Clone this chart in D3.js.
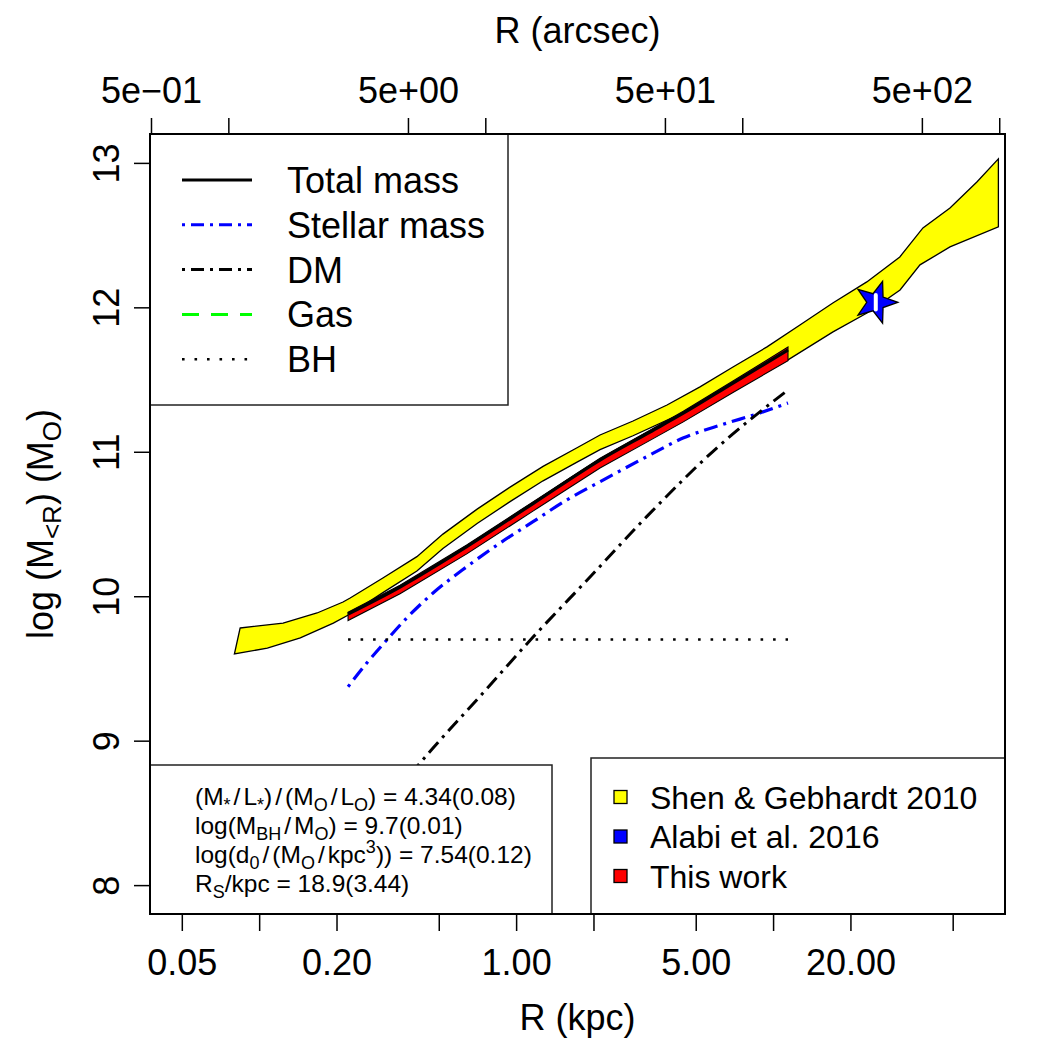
<!DOCTYPE html>
<html>
<head>
<meta charset="utf-8">
<script src="https://cdn.jsdelivr.net/npm/d3@7"></script>
<style>
body { margin: 0; background: #fff; }
text { font-family: "Liberation Sans", Arial, sans-serif; fill: #000; }
</style>
</head>
<body>
<svg id="chart" width="1050" height="1050"></svg>
<script>
// ---- data (R in kpc, log10 of enclosed mass) ----
// Shen & Gebhardt 2010 band, upper and lower edges
var sgUpR = [0.0843, 0.1239, 0.168, 0.212, 0.226, 0.303, 0.411, 0.519, 0.705, 0.947, 1.273, 1.726, 2.121, 2.850, 3.866, 5.195, 6.982, 9.47, 12.72, 17.08, 23.16, 31.13, 38.3, 48.8, 62.1, 75.3];
var sgUp  = [9.780, 9.814, 9.884, 9.960, 9.988, 10.126, 10.274, 10.430, 10.603, 10.755, 10.899, 11.028, 11.116, 11.213, 11.324, 11.449, 11.587, 11.726, 11.878, 12.030, 12.176, 12.349, 12.550, 12.688, 12.868, 13.028];
var sgLoR = [0.0801, 0.1076, 0.1446, 0.1944, 0.226, 0.303, 0.411, 0.519, 0.705, 0.947, 1.273, 1.726, 2.121, 2.850, 4.461, 6.982, 11.43, 17.11, 23.2, 31.2, 37.3, 48.8, 75.3];
var sgLo  = [9.600, 9.641, 9.711, 9.814, 9.877, 10.025, 10.174, 10.330, 10.503, 10.655, 10.799, 10.928, 11.015, 11.111, 11.269, 11.442, 11.636, 11.830, 11.961, 12.120, 12.294, 12.418, 12.557];

// This work: total mass and its band
var modelR    = [0.2218, 0.3534, 0.6424, 1.167, 2.121, 3.319, 4.473, 6.982, 11.43];
var totalMass = [9.877, 10.064, 10.343, 10.643, 10.943, 11.137, 11.267, 11.476, 11.705];
var totalHi   = [9.889, 10.076, 10.355, 10.655, 10.955, 11.150, 11.280, 11.490, 11.725];
var totalLo   = [9.832, 10.017, 10.293, 10.591, 10.888, 11.079, 11.207, 11.411, 11.630];

// stellar mass
var starR    = [0.2218, 0.2622, 0.3137, 0.3752, 0.475, 0.6424, 0.8657, 1.164, 1.573, 2.121, 3.222, 4.461, 6.385, 8.892, 11.43];
var starMass = [9.373, 9.537, 9.697, 9.849, 10.022, 10.204, 10.368, 10.516, 10.666, 10.793, 10.966, 11.095, 11.190, 11.269, 11.338];

// dark matter
var dmR    = [0.2218, 0.323, 0.475, 0.743, 1.164, 1.939, 3.222, 6.033, 11.43];
var dmMass = [8.256, 8.602, 8.949, 9.330, 9.717, 10.133, 10.551, 11.026, 11.428];

// black hole (constant)
var bhR = [0.2218, 11.43];
var bhMass = 9.7;

// Alabi et al. 2016 point
var alabiR = [25.1];
var alabiMass = [12.035];
var alabiErr = [0.05];

// axes
var kpcTicks  = [0.05, 0.1, 0.2, 0.5, 1, 2, 5, 10, 20, 50];
var kpcLabels = ["0.05", "", "0.20", "", "1.00", "", "5.00", "", "20.00", ""];
var arcTicks  = [0.5, 1, 5, 10, 50, 100, 500, 1000];
var arcLabels = ["5e\u221201", "", "5e+00", "", "5e+01", "", "5e+02", ""];
var yTicks = [8, 9, 10, 11, 12, 13];
var arcPerKpc = 13.18;

var legendLines = ["Total mass", "Stellar mass", "DM", "Gas", "BH"];
var legendBoxes = ["Shen & Gebhardt 2010", "Alabi et al. 2016", "This work"];

// ---- layout ----  (don't call it "top": window.top is read-only)
var pL = 150, pR = 1005, pT = 134, pB = 914;
var svg = d3.select("#chart");

var x = d3.scaleLog().domain([0.0376, 79.9]).range([pL, pR]);
var xTop = d3.scaleLog().domain([0.0376 * arcPerKpc, 79.9 * arcPerKpc]).range([pL, pR]);
var y = d3.scaleLinear().domain([7.8, 13.2]).range([pB, pT]);

svg.append("clipPath").attr("id", "clip")
  .append("rect").attr("x", pL).attr("y", pT).attr("width", pR - pL).attr("height", pB - pT);

var plot = svg.append("g").attr("clip-path", "url(#clip)");

var line = d3.line().x(function(d) { return x(d[0]); }).y(function(d) { return y(d[1]); });
// smooth version for the model curves
var curve = d3.line().x(function(d) { return x(d[0]); }).y(function(d) { return y(d[1]); })
  .curve(d3.curveMonotoneX);

// yellow band: upper edge left to right, lower edge back
var sgPoly = d3.zip(sgUpR, sgUp).concat(d3.zip(sgLoR, sgLo).reverse());
plot.append("path").attr("d", line(sgPoly) + "Z")
  .attr("fill", "#ffff00").attr("stroke", "#000").attr("stroke-width", 1.3);

// red band
var redPoly = d3.zip(modelR, totalHi).concat(d3.zip(modelR, totalLo).reverse());
plot.append("path").attr("d", line(redPoly) + "Z")
  .attr("fill", "#ff0000").attr("stroke", "#000").attr("stroke-width", 1.1);

// total mass
plot.append("path").attr("d", curve(d3.zip(modelR, totalMass)))
  .attr("fill", "none").attr("stroke", "#000").attr("stroke-width", 3.2);

// stellar mass
plot.append("path").attr("d", curve(d3.zip(starR, starMass)))
  .attr("fill", "none").attr("stroke", "#0000ff").attr("stroke-width", 3.2)
  .attr("stroke-dasharray", "3,6,14,6");

// DM
plot.append("path").attr("d", curve(d3.zip(dmR, dmMass)))
  .attr("fill", "none").attr("stroke", "#000").attr("stroke-width", 3)
  .attr("stroke-dasharray", "3,6,14,6");

// BH
plot.append("path").attr("d", line(bhR.map(function(r) { return [r, bhMass]; })))
  .attr("fill", "none").attr("stroke", "#000").attr("stroke-width", 2.6)
  .attr("stroke-dasharray", "2.6,9.9");

// Alabi star with white error bar
var starPts = d3.range(10).map(function(i) {
  var a = i * Math.PI / 5, rr = (i % 2 === 0) ? 22 : 9;
  return [rr * Math.cos(a), rr * Math.sin(a)];
});
alabiR.forEach(function(r, i) {
  var cx = x(r), cy = y(alabiMass[i]);
  plot.append("path")
    .attr("d", "M" + starPts.map(function(p) { return (cx + p[0]) + "," + (cy + p[1]); }).join("L") + "Z")
    .attr("fill", "#0000ff").attr("stroke", "#000").attr("stroke-width", 1.3);
  plot.append("line")
    .attr("x1", cx).attr("x2", cx)
    .attr("y1", y(alabiMass[i] + alabiErr[i])).attr("y2", y(alabiMass[i] - alabiErr[i]))
    .attr("stroke", "#fff").attr("stroke-width", 4).attr("stroke-linecap", "round");
});

// ---- legends ----
var lg = svg.append("g");
lg.append("rect").attr("x", pL).attr("y", pT).attr("width", 358).attr("height", 271)
  .attr("fill", "#fff").attr("stroke", "#222").attr("stroke-width", 1.5);
var lStyles = [
  { c: "#000", d: null, w: 3 },
  { c: "#0000ff", d: "3,6,13,6", w: 3 },
  { c: "#000", d: "3,6,13,6", w: 3 },
  { c: "#00ff00", d: "17,12", w: 3 },
  { c: "#000", d: "2.6,9.9", w: 2.6 }
];
legendLines.forEach(function(name, i) {
  var cy = 180 + i * 44.8;
  lg.append("line").attr("x1", 182).attr("x2", 252).attr("y1", cy).attr("y2", cy)
    .attr("stroke", lStyles[i].c).attr("stroke-width", lStyles[i].w)
    .attr("stroke-dasharray", lStyles[i].d);
  lg.append("text").attr("x", 287).attr("y", cy + 13).attr("font-size", 36).text(name);
});

var rg = svg.append("g");
rg.append("rect").attr("x", 591).attr("y", 758).attr("width", 414).attr("height", 156)
  .attr("fill", "#fff").attr("stroke", "#222").attr("stroke-width", 1.5);
var boxFills = ["#ffff00", "#0000ff", "#ff0000"];
legendBoxes.forEach(function(name, i) {
  var cy = 797 + i * 39.5;
  rg.append("rect").attr("x", 614).attr("y", cy - 6.5).attr("width", 13).attr("height", 13)
    .attr("fill", boxFills[i]).attr("stroke", "#000").attr("stroke-width", 1.3);
  rg.append("text").attr("x", 650).attr("y", cy + 11.5).attr("font-size", 32).text(name);
});

// fitted parameters box.  "op" parts get a little space either side like plotmath does
var pg = svg.append("g");
pg.append("rect").attr("x", pL).attr("y", 765).attr("width", 402).attr("height", 149)
  .attr("fill", "#fff").attr("stroke", "#222").attr("stroke-width", 1.5);
var params = [
  [["(M", "n"], ["*", "sub"], ["/", "op"], ["L", "n"], ["*", "sub"], [")", "n"], ["/", "op"], ["(M", "n"], ["O", "sub"], ["/", "op"], ["L", "n"], ["O", "sub"], [") = 4.34(0.08)", "n"]],
  [["log(M", "n"], ["BH", "sub"], ["/", "op"], ["M", "n"], ["O", "sub"], [") = 9.7(0.01)", "n"]],
  [["log(d", "n"], ["0", "sub"], ["/", "op"], ["(M", "n"], ["O", "sub"], ["/", "op"], ["kpc", "n"], ["3", "sup"], [")) = 7.54(0.12)", "n"]],
  [["R", "n"], ["S", "sub"], ["/kpc = 18.9(3.44)", "n"]]
];
params.forEach(function(parts, i) {
  var t = pg.append("text").attr("x", 195).attr("y", 805 + i * 29).attr("font-size", 24.5);
  var shift = 0, pad = 0;
  parts.forEach(function(p) {
    var want = p[1] === "sub" ? 6 : (p[1] === "sup" ? -10 : 0);
    t.append("tspan").attr("dy", want - shift).attr("dx", p[1] === "op" ? 3 : pad)
      .attr("font-size", (p[1] === "n" || p[1] === "op") ? 24.5 : 18).text(p[0]);
    pad = p[1] === "op" ? 3 : 0;
    shift = want;
  });
});

// ---- axes ----
svg.append("rect").attr("x", pL).attr("y", pT).attr("width", pR - pL).attr("height", pB - pT)
  .attr("fill", "none").attr("stroke", "#000").attr("stroke-width", 2);

var gb = svg.append("g").attr("transform", "translate(0," + pB + ")")
  .call(d3.axisBottom(x).tickValues(kpcTicks).tickSize(17).tickSizeOuter(0)
    .tickFormat(function(d, i) { return kpcLabels[i]; }));
var gt = svg.append("g").attr("transform", "translate(0," + pT + ")")
  .call(d3.axisTop(xTop).tickValues(arcTicks).tickSize(16).tickSizeOuter(0)
    .tickFormat(function(d, i) { return arcLabels[i]; }));
var gl = svg.append("g").attr("transform", "translate(" + pL + ",0)")
  .call(d3.axisLeft(y).tickValues(yTicks).tickSize(16).tickSizeOuter(0).tickFormat(d3.format("d")));

[gb, gt, gl].forEach(function(g) {
  g.select(".domain").remove();
  g.selectAll(".tick line").attr("stroke", "#000").attr("stroke-width", 1.5);
  g.selectAll("text").attr("font-size", 36).attr("font-family", "Liberation Sans, Arial, sans-serif").attr("fill", "#000");
});
gb.selectAll("text").attr("y", 61).attr("dy", 0);
gt.selectAll("text").attr("y", -31).attr("dy", 0);
gl.selectAll("text").attr("x", 0).attr("y", -31).attr("dy", 0)
  .attr("text-anchor", "middle").attr("transform", "rotate(-90)");

// titles
svg.append("text").attr("x", (pL + pR) / 2).attr("y", 43).attr("text-anchor", "middle")
  .attr("font-size", 36).text("R (arcsec)");
svg.append("text").attr("x", (pL + pR) / 2).attr("y", 1030).attr("text-anchor", "middle")
  .attr("font-size", 36).text("R (kpc)");
var yt = svg.append("text").attr("transform", "translate(53," + ((pT + pB) / 2) + ") rotate(-90)")
  .attr("text-anchor", "middle").attr("font-size", 36);
yt.append("tspan").text("log (M");
yt.append("tspan").attr("dy", 8).attr("font-size", 26).text("<R");
yt.append("tspan").attr("dy", -8).text(") (M");
yt.append("tspan").attr("dy", 8).attr("font-size", 26).text("O");
yt.append("tspan").attr("dy", -8).text(")");
</script>
</body>
</html>
